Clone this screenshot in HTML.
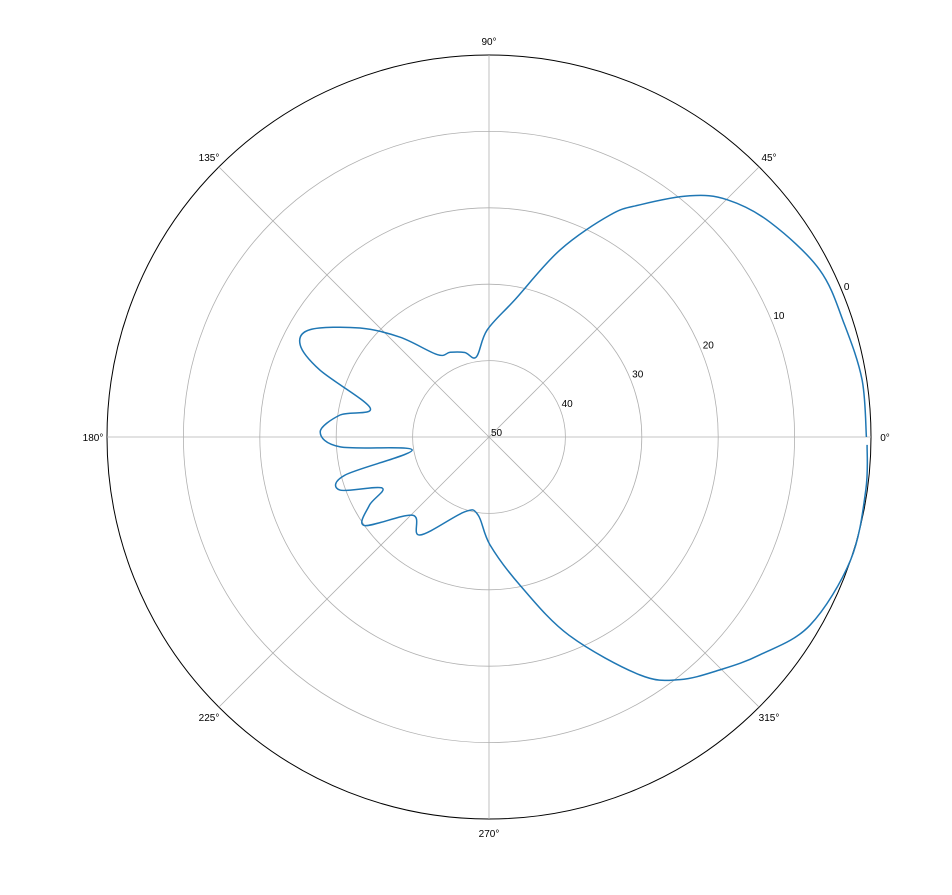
<!DOCTYPE html>
<html><head><meta charset="utf-8"><style>
html,body{margin:0;padding:0;background:#fff;}
svg{display:block;font-family:"Liberation Sans",sans-serif;}
</style></head><body>
<svg id="chart" width="952" height="895">
<g id="grid"></g>
<g id="labels"></g>
<path id="series" fill="none" stroke="#1f77b4" stroke-width="1.5"/>
</svg>
<script>
const angles=[0,8.7,17.5,26.8,37.4,44.9,50.2,56.9,61.4,69.2,79.3,91,99,106,114.6,122,131.7,139.8,149,154,158.4,166.3,171.6,178.3,183.8,189.6,194.8,199.6,205.5,209.7,215.4,225.7,234.8,252,262,270.5,281.8,292,302.4,308.2,314.7,321.2,329.6,341.3,352,358.8];
const values=[0.6,0.6,1.2,1.5,3.7,6.0,8.9,13.7,16.9,23.8,31.7,36,39.4,38.5,37.8,37.3,32.5,27.9,22.7,22.5,26.2,34,30.3,27.9,30.5,39.8,30.5,29.3,34.5,32,30,35.7,34.3,39.7,39.7,35.9,30.2,22,13.1,9.6,7.1,4.5,1.3,0,0.2,0.5];
const rTicks=[0,10,20,30,40,50];
const thetaTicks=[0,45,90,135,180,225,270,315];
const cx=489,cy=437,R=382,rMin=50,rMax=0;
const ns="http://www.w3.org/2000/svg";
function rs(v){return (rMin-v)/(rMin-rMax)*R;}
function pt(a,r){const t=a*Math.PI/180;return [cx+r*Math.cos(t),cy-r*Math.sin(t)];}
const grid=document.getElementById('grid'),labels=document.getElementById('labels');
rTicks.forEach(v=>{const r=rs(v);if(r<=0)return;
 const c=document.createElementNS(ns,'circle');
 
 
 c.setAttribute('cx',cx);c.setAttribute('cy',cy);c.setAttribute('r',r);c.setAttribute('fill','none');
 c.setAttribute('stroke',v===rMax?'#000':'#b0b0b0');c.setAttribute('stroke-width',v===rMax?1:0.8);grid.appendChild(c);});
thetaTicks.forEach(a=>{const p=pt(a,R);
 const l=document.createElementNS(ns,'line');
 
 
 l.setAttribute('x1',cx);l.setAttribute('y1',cy);l.setAttribute('x2',p[0]);l.setAttribute('y2',p[1]);
 l.setAttribute('stroke','#b0b0b0');l.setAttribute('stroke-width',0.8);grid.appendChild(l);
 const q=pt(a,R+14);const t=document.createElementNS(ns,'text');
 
 
 t.setAttribute('x',q[0]);t.setAttribute('y',q[1]+4);t.setAttribute('font-size','10');t.setAttribute('text-anchor','middle');
 t.textContent=a+'°';labels.appendChild(t);});
rTicks.forEach(v=>{const q=pt(22.5,rs(v));const t=document.createElementNS(ns,'text');
 
 
 t.setAttribute('x',q[0]+2);t.setAttribute('y',q[1]-1);t.setAttribute('font-size','10');
 t.textContent=v;labels.appendChild(t);});
const P=angles.map((a,i)=>pt(a,rs(values[i])));
let d='M'+P[0][0].toFixed(1)+','+P[0][1].toFixed(1);
for(let i=0;i<P.length-1;i++){
 const p0=P[Math.max(i-1,0)],p1=P[i],p2=P[i+1],p3=P[Math.min(i+2,P.length-1)];
 const c1=[p1[0]+(p2[0]-p0[0])/6,p1[1]+(p2[1]-p0[1])/6];
 const c2=[p2[0]-(p3[0]-p1[0])/6,p2[1]-(p3[1]-p1[1])/6];
 d+='C'+c1.map(n=>n.toFixed(1)).join(',')+' '+c2.map(n=>n.toFixed(1)).join(',')+' '+p2.map(n=>n.toFixed(1)).join(',');
}
document.getElementById('series').setAttribute('d',d);
</script>
</body></html>
